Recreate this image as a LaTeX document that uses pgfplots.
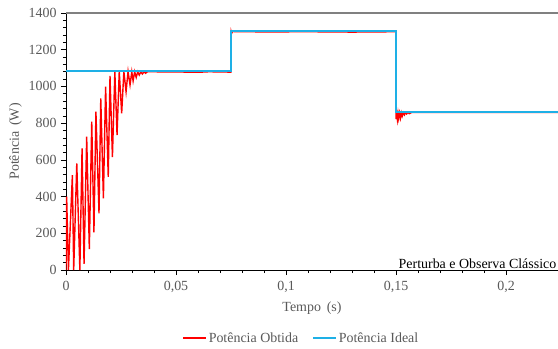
\documentclass[border=0pt]{standalone}
\usepackage{fontspec}
\setmainfont{Liberation Serif}
\usepackage{pgfplots}
\pgfplotsset{compat=1.18}
\definecolor{ideal}{RGB}{30,176,230}
\definecolor{obt}{RGB}{255,0,0}
\definecolor{lbl}{RGB}{89,89,89}
\begin{document}
\begin{tikzpicture}
\begin{axis}[
  name=ax,
  scale only axis,
  width=492bp, height=257bp,
  xmin=0, xmax=0.2236, ymin=0, ymax=1400,
  axis x line*=bottom, axis y line*=left,
  axis line style={black, line width=0.7pt},
  xtick={0,0.05,0.1,0.15,0.2},
  xticklabels={0,{0,05},{0,1},{0,15},{0,2}},
  ytick={0,200,400,600,800,1000,1200,1400},
  yticklabel style={/pgf/number format/1000 sep={}},
  minor x tick num=4, minor y tick num=4,
  tick align=outside,
  major tick length=5bp, minor tick length=3bp,
  tick style={black, line width=0.6pt},
  /pgf/number format/assume math mode=true,
  ticklabel style={font=\fontsize{14}{15}\selectfont, text=lbl},
  xticklabel style={yshift=-3bp},
  yticklabel style={xshift=-1bp},
  xlabel={Tempo\, (s)}, ylabel={Potência\, (W)},
  label style={font=\fontsize{14}{15}\selectfont, text=lbl},
  xlabel style={yshift=-2bp},
  ylabel style={yshift=0bp},
  legend columns=2,
  legend style={at={(0.478,-0.265)}, anchor=center, draw=none, fill=none,
    font=\fontsize{14}{15}\selectfont, text=lbl,
    /tikz/every even column/.append style={column sep=12bp}},
  legend image code/.code={\draw[#1, line width=2pt] (0cm,0cm) -- (0.8cm,0cm);},
  clip=true,
]
\addplot[obt, line width=1.4pt] coordinates {
(0,0) (0.0003,400) (0.0011,0) (0.0029,517) (0.0035,0) (0.0049,581) (0.0063,0)
(0.0073,663) (0.0082,33) (0.0094,726) (0.0106,114) (0.0117,808) (0.0127,205)
(0.0136,862) (0.0150,309) (0.0158,935) (0.0170,390) (0.0180,999) (0.0192,508)
(0.0200,1057) (0.0211,615) (0.0222,1080) (0.0232,735) (0.0242,1082) (0.0253,853)
(0.0263,1082) (0.0273,971) (0.0282,1082) (0.0291,1008) (0.0299,1080) (0.0305,1030)
(0.0312,1080) (0.0319,1049) (0.0326,1080) (0.0333,1062) (0.0340,1080) (0.0347,1068)
(0.0355,1080) (0.0362,1072) (0.037,1080) (0.05,1079) (0.06,1077) (0.065,1080)
(0.0749,1078) (0.0751,1298) (0.0753,1290) (0.0757,1299) (0.09,1297) (0.11,1298)
(0.13,1296) (0.1499,1298) (0.1500,822) (0.1503,852) (0.1506,820) (0.1509,853)
(0.1512,825) (0.1516,855) (0.1520,828) (0.1524,856) (0.1528,838) (0.1533,857)
(0.1538,845) (0.1543,858) (0.1548,850) (0.1553,858) (0.1560,852) (0.157,858)
(0.2236,858)
};
\addlegendentry{Potência Obtida}
\addplot[ideal, line width=1.4pt] coordinates {
(0,1083) (0.075,1083) (0.075,1303) (0.15,1303) (0.15,860) (0.2236,860)
};
\addlegendentry{Potência Ideal}
\node[anchor=south east, inner sep=1.5bp, font=\fontsize{14}{15}\selectfont, text=black]
  at (rel axis cs:1,0) {Perturba e Observa Clássico};
\end{axis}
\draw[gray, line width=1.2pt] (ax.north west) -- (ax.north east);
\pgfresetboundingbox
\path ([shift={(-66bp,-79bp)}]ax.south west) rectangle ([shift={(0bp,13bp)}]ax.north east);
\end{tikzpicture}
\end{document}
